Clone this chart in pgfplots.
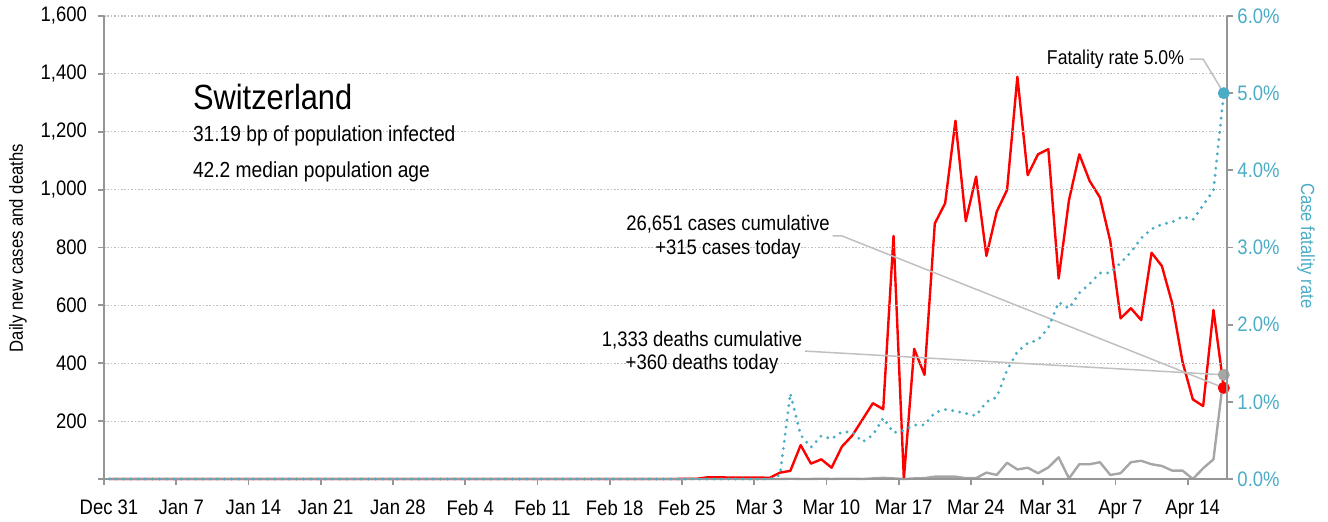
\documentclass[border=0pt]{standalone}
\usepackage{fontspec}
\setmainfont[FakeStretch=0.88]{Liberation Sans}
\usepackage{pgfplots}
\usepackage{pgfplotstable}
\pgfplotsset{compat=1.18}
\definecolor{cred}{HTML}{FF0000}
\definecolor{cgray}{HTML}{A6A6A6}
\definecolor{cblue}{HTML}{4BACC6}
\definecolor{caxis}{HTML}{969696}
\definecolor{cgrid}{HTML}{BFBFBF}
\definecolor{clead}{HTML}{C0C0C0}
\pgfplotstableread{
d cases deaths rate
0 0 0 0
1 0 0 0
2 0 0 0
3 0 0 0
4 0 0 0
5 0 0 0
6 0 0 0
7 0 0 0
8 0 0 0
9 0 0 0
10 0 0 0
11 0 0 0
12 0 0 0
13 0 0 0
14 0 0 0
15 0 0 0
16 0 0 0
17 0 0 0
18 0 0 0
19 0 0 0
20 0 0 0
21 0 0 0
22 0 0 0
23 0 0 0
24 0 0 0
25 0 0 0
26 0 0 0
27 0 0 0
28 0 0 0
29 0 0 0
30 0 0 0
31 0 0 0
32 0 0 0
33 0 0 0
34 0 0 0
35 0 0 0
36 0 0 0
37 0 0 0
38 0 0 0
39 0 0 0
40 0 0 0
41 0 0 0
42 0 0 0
43 0 0 0
44 0 0 0
45 0 0 0
46 0 0 0
47 0 0 0
48 0 0 0
49 0 0 0
50 0 0 0
51 0 0 0
52 0 0 0
53 0 0 0
54 0 0 0
55 0 0 0
56 1 0 0
57 1 0 0
58 6 0 0
59 6 0 0
60 5 0 0
61 5 0 0
62 5 0 0
63 5 0 0
64 4 0 0
65 22 0 0.05
66 28 1 1.11
67 117 0 0.57
68 53 0 0.41
69 68 1 0.56
70 39 0 0.52
71 112 1 0.61
72 150 1 0.61
73 206 0 0.48
74 262 2 0.57
75 241 4 0.79
76 840 2 0.60
77 0 0 0.63
78 450 2 0.70
79 360 3 0.70
80 883 8 0.86
81 953 8 0.90
82 1238 8 0.88
83 891 3 0.85
84 1045 3 0.82
85 771 22 1.00
86 924 14 1.06
87 999 56 1.41
88 1390 33 1.65
89 1050 39 1.76
90 1122 20 1.80
91 1140 40 1.96
92 693 75 2.29
93 964 2 2.21
94 1122 51 2.41
95 1030 51 2.53
96 973 58 2.67
97 822 14 2.67
98 555 20 2.80
99 590 58 2.94
100 549 63 3.12
101 782 51 3.24
102 736 45 3.30
103 607 29 3.33
104 405 29 3.40
105 275 0 3.36
106 252 37 3.55
107 584 68 3.74
108 315 360 5.00
}\data
\begin{document}
\begin{tikzpicture}
\useasboundingbox (0,0) rectangle (664pt,261pt);
\begin{axis}[
  at={(52pt,21.5pt)}, anchor=south west,
  scale only axis, width=561.7pt, height=231.5pt,
  xmin=0, xmax=108.85, ymin=0, ymax=1600,
  clip=false, axis on top,
  axis x line*=bottom, axis y line*=left,
  x axis line style={-, caxis, line width=1.4pt},
  y axis line style={-, caxis, line width=1pt},
  xtick={0,7,...,105},
  xticklabels={Dec 31,Jan 7,Jan 14,Jan 21,Jan 28,Feb 4,Feb 11,Feb 18,Feb 25,Mar 3,Mar 10,Mar 17,Mar 24,Mar 31,Apr 7,Apr 14},
  ytick={0,200,...,1600},
  yticklabels={,200,400,600,800,{1,000},{1,200},{1,400},{1,600}},
  tick align=outside, major tick length=3pt,
  tick style={caxis, line width=0.9pt},
  tick label style={font=\fontsize{10.5}{12}\selectfont, black},
  xticklabel style={yshift=-4pt, xshift=2.5pt},
  yticklabel style={xshift=-2pt},
  ymajorgrids,
  grid style={cgrid, line width=0.6pt, dash pattern=on 0.8pt off 0.9pt},
]
\addplot[cgray, line width=1.2pt, line join=round] table[x expr=\thisrow{d}+0.5, y=deaths] {\data};
\addplot[cred, line width=1.2pt, line join=round] table[x expr=\thisrow{d}+0.5, y=cases] {\data};
\draw[clead, line width=0.75pt] (axis cs:70.6,840) -- (axis cs:71.5,840) -- (axis cs:108.5,315);
\draw[clead, line width=0.75pt] (axis cs:67.9,442) -- (axis cs:108.5,360);
\draw[clead, line width=0.75pt] (axis cs:105.2,1451) -- (axis cs:106.5,1451) -- (axis cs:108.5,1333.3);
\addplot[cgray, only marks, mark=*, mark size=2.8pt] coordinates {(108.5,360)};
\addplot[cred, only marks, mark=*, mark size=2.8pt] coordinates {(108.5,315)};
\end{axis}
\begin{axis}[
  at={(52pt,21.5pt)}, anchor=south west,
  scale only axis, width=561.7pt, height=231.5pt,
  xmin=0, xmax=108.85, ymin=0, ymax=6,
  clip=false,
  axis x line=none, axis y line*=right,
  y axis line style={-, caxis, line width=1pt},
  ytick={0,1,...,6},
  yticklabels={0.0\%,1.0\%,2.0\%,3.0\%,4.0\%,5.0\%,6.0\%},
  tick align=outside, major tick length=3pt,
  tick style={caxis, line width=0.9pt},
  tick label style={font=\fontsize{10.5}{12}\selectfont, cblue},
  yticklabel style={xshift=-1.5pt},
]
\addplot[cblue, line width=1.6pt, line cap=round, dash pattern=on 0pt off 3.6pt] table[x expr=\thisrow{d}+0.5, y=rate] {\data};
\addplot[cblue, only marks, mark=*, mark size=2.8pt] coordinates {(108.5,5.0)};
\end{axis}
% titles and annotations
\node[anchor=west, font=\fontsize{17.5}{20}\selectfont] at (93pt,212.5pt) {Switzerland};
\node[anchor=west, font=\fontsize{10.9}{13}\selectfont] at (93pt,193pt) {31.19 bp of population infected};
\node[anchor=west, font=\fontsize{10.9}{13}\selectfont] at (93pt,175pt) {42.2 median population age};
\node[align=center, font=\fontsize{10.5}{12}\selectfont] at (364pt,142.5pt) {26,651 cases cumulative\\+315 cases today};
\node[align=center, font=\fontsize{10.5}{11.5}\selectfont] at (351pt,84.75pt) {1,333 deaths cumulative\\+360 deaths today};
\node[anchor=east, font=\fontsize{10}{12}\selectfont] at (595.5pt,231.5pt) {Fatality rate 5.0\%};
\node[rotate=90, font=\fontsize{9.5}{11}\selectfont] at (9pt,137pt) {Daily new cases and deaths};
\node[rotate=-90, font=\fontsize{9.5}{11}\selectfont, text=cblue] at (653pt,138pt) {Case fatality rate};
\end{tikzpicture}
\end{document}
